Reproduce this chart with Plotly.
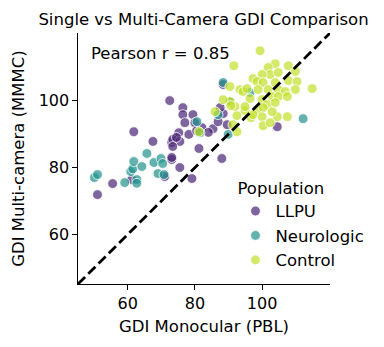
import plotly.graph_objects as go

# ---- data ----
llpu_x = [51.0, 55.5, 61.2, 61.8, 67.5, 71.0, 73.1, 73.1, 72.5, 76.4, 76.4, 79.4, 77.0, 80.0,
          75.2, 78.2, 73.4, 75.5, 73.4, 81.2, 73.1, 75.5, 79.1, 82.1, 85.4, 88.4, 86.9, 89.6,
          87.5, 88.4, 88.0, 104.5, 74.5, 80.5, 84.0]
llpu_y = [71.9, 75.2, 76.4, 90.7, 87.8, 77.3, 87.5, 82.4, 100.0, 97.9, 95.8, 95.8, 93.4, 93.4,
          90.4, 89.9, 88.4, 87.8, 86.3, 85.7, 83.0, 80.0, 76.7, 91.9, 91.6, 96.1, 93.7, 92.8,
          97.9, 104.8, 82.7, 92.2, 89.0, 91.0, 90.5]

neuro_x = [50.1, 51.0, 59.1, 60.9, 61.5, 62.7, 62.7, 61.8, 64.2, 65.7, 67.8, 69.9, 70.4, 69.0,
           70.8, 80.6, 81.5, 86.9, 88.4, 90.4, 89.9, 96.4, 112.2]
neuro_y = [77.0, 77.9, 75.5, 78.8, 79.6, 76.4, 75.3, 81.8, 80.3, 84.2, 81.5, 82.7, 81.2, 78.2,
           77.9, 93.7, 90.4, 95.8, 105.4, 99.7, 89.9, 102.4, 94.6]

ctrl_x = [99.4, 91.6, 103.9, 107.8, 101.8, 109.9, 102.4, 104.8, 100.0, 97.3, 98.5, 100.3, 103.9,
          107.8, 110.4, 114.9, 93.4, 94.3, 95.5, 98.8, 101.8, 104.8, 106.9, 109.9, 96.4, 100.0,
          103.0, 104.8, 107.5, 101.5, 103.9, 91.9, 98.5, 100.3, 94.9, 92.5, 96.7, 100.0, 104.5,
          107.5, 103.0, 100.3, 102.4, 90.4, 90.4, 88.4, 90.7, 86.0, 91.3, 81.2, 92.5, 97.3, 94.9]
ctrl_y = [114.9, 110.4, 111.0, 110.4, 109.9, 108.7, 107.8, 108.4, 107.8, 106.6, 105.7, 105.4, 105.4,
          106.0, 105.7, 103.6, 103.3, 102.7, 103.6, 103.3, 103.3, 103.3, 102.7, 103.3, 100.6, 100.3,
          101.2, 101.2, 101.2, 98.8, 99.4, 98.2, 97.3, 97.9, 97.0, 95.5, 94.9, 95.2, 95.2,
          95.2, 96.7, 92.5, 93.4, 99.7, 104.2, 100.3, 98.5, 96.7, 92.8, 90.7, 90.7, 95.8, 98.2]

groups = ["LLPU", "Neurologic", "Control"]
colors = ["rgba(72,36,117,0.7)", "rgba(33,145,140,0.7)", "rgba(194,223,42,0.7)"]
axis_range = [45.2, 120.2]
pearson_r = 0.85

FONT = "DejaVu Sans"
fig = go.Figure()

for name, xs, ys, col in zip(groups, [llpu_x, neuro_x, ctrl_x], [llpu_y, neuro_y, ctrl_y], colors):
    fig.add_trace(go.Scatter(
        x=xs, y=ys, mode="markers", name=name,
        marker=dict(size=9.8, color=col, line=dict(color="white", width=0.8)),
    ))

fig.add_trace(go.Scatter(
    x=axis_range, y=axis_range, mode="lines", showlegend=False,
    line=dict(color="black", width=2.8, dash="10px,4.5px"), hoverinfo="skip",
))

fig.add_annotation(
    text=f"Pearson r = {pearson_r:.2f}", xref="paper", yref="paper",
    x=0.045, y=0.965, xanchor="left", yanchor="top", showarrow=False,
    font=dict(family=FONT, size=16.5, color="black"),
)

axis_common = dict(
    range=axis_range, showgrid=False, zeroline=False, showline=True, automargin=False,
    linecolor="black", linewidth=1.2, ticks="outside", ticklen=4.5, tickwidth=1.2,
    tickcolor="black", tickvals=[60, 80, 100], tickfont=dict(family=FONT, size=16, color="black"),
    mirror=False,
)

fig.update_layout(
    width=384, height=347,
    margin=dict(l=78, r=54, t=33, b=63, autoexpand=False),
    paper_bgcolor="white", plot_bgcolor="white",
    title=dict(text="Single vs Multi-Camera GDI Comparison", x=0.53,
               xanchor="center", y=0.945, yanchor="middle",
               font=dict(family=FONT, size=16.5, color="black")),
    xaxis=dict(**axis_common, title=dict(text="GDI Monocular (PBL)", standoff=8,
                                         font=dict(family=FONT, size=16.5, color="black"))),
    yaxis=dict(**axis_common, title=dict(text="GDI Multi-camera (MMMC)", standoff=9,
                                         font=dict(family=FONT, size=16.5, color="black"))),
    legend=dict(
        title=dict(text="Population", font=dict(family=FONT, size=16.5, color="black")),
        font=dict(family=FONT, size=16.5, color="black"),
        x=0.625, y=0.445, xanchor="left", yanchor="top", tracegroupgap=0,
        bgcolor="rgba(0,0,0,0)", borderwidth=0, itemwidth=30,
    ),
    showlegend=True,
)

fig.write_html("out.html", config={"displayModeBar": False},
               post_script="document.body.style.margin='0px';")
